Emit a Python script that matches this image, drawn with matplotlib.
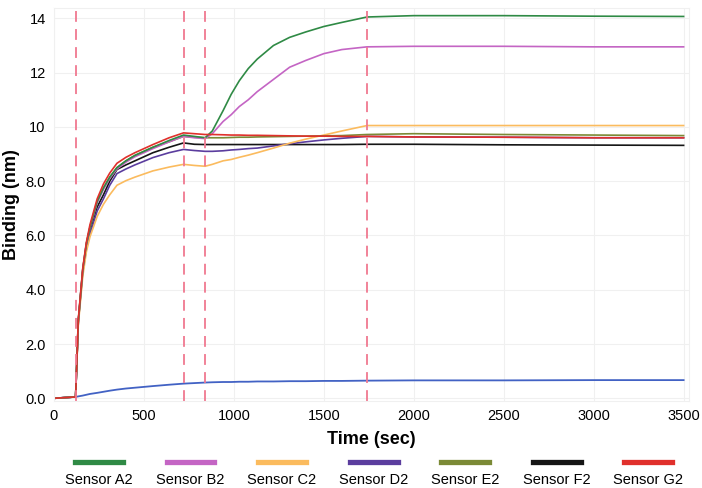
import numpy as np
from matplotlib import pyplot as plt
from matplotlib.lines import Line2D

plt.rcParams['font.family'] = ['Liberation Sans', 'DejaVu Sans']

# sample times (sec) and readings (nm) per sensor
time = [0, 120, 135, 160, 180, 200, 240, 275, 310, 350, 400, 450, 550, 640, 720, 780, 840,
        880, 940, 985, 1030, 1080, 1130, 1220, 1310, 1400, 1500, 1600, 1740, 2000, 2500, 3000, 3500]

sensor_a2 = [0, 0.05, 2.85, 4.75, 5.7, 6.3, 7.25, 7.75, 8.15, 8.5, 8.75, 8.95, 9.25, 9.5, 9.7, 9.65, 9.6,
             9.85, 10.6, 11.2, 11.7, 12.15, 12.5, 13.0, 13.3, 13.5, 13.7, 13.85, 14.05, 14.1, 14.1, 14.08, 14.07]
sensor_b2 = [0, 0.05, 2.85, 4.75, 5.7, 6.3, 7.2, 7.7, 8.1, 8.45, 8.7, 8.9, 9.2, 9.45, 9.65, 9.6, 9.57,
             9.75, 10.2, 10.45, 10.75, 11.0, 11.3, 11.75, 12.2, 12.45, 12.7, 12.85, 12.95, 12.97, 12.97, 12.95, 12.95]
sensor_c2 = [0, 0.05, 2.7, 4.5, 5.4, 5.95, 6.7, 7.15, 7.5, 7.85, 8.02, 8.15, 8.38, 8.52, 8.62, 8.58, 8.55,
             8.62, 8.75, 8.8, 8.88, 8.96, 9.05, 9.22, 9.4, 9.55, 9.7, 9.85, 10.05, 10.05, 10.05, 10.05, 10.05]
sensor_d2 = [0, 0.05, 2.8, 4.65, 5.5, 6.05, 6.9, 7.35, 7.85, 8.28, 8.45, 8.6, 8.87, 9.05, 9.17, 9.13, 9.1,
             9.1, 9.12, 9.15, 9.17, 9.2, 9.22, 9.3, 9.38, 9.45, 9.52, 9.58, 9.65, 9.63, 9.62, 9.6, 9.6]
sensor_e2 = [0, 0.05, 2.85, 4.75, 5.7, 6.3, 7.25, 7.75, 8.15, 8.5, 8.75, 8.95, 9.25, 9.45, 9.65, 9.62, 9.6,
             9.6, 9.6, 9.61, 9.62, 9.62, 9.63, 9.64, 9.65, 9.66, 9.67, 9.68, 9.72, 9.75, 9.72, 9.7, 9.68]
sensor_f2 = [0, 0.05, 2.8, 4.7, 5.6, 6.2, 7.05, 7.5, 8.0, 8.43, 8.6, 8.75, 9.05, 9.25, 9.41, 9.36, 9.35,
             9.35, 9.35, 9.35, 9.35, 9.35, 9.35, 9.35, 9.35, 9.35, 9.35, 9.35, 9.36, 9.36, 9.34, 9.33, 9.32]
sensor_g2 = [0, 0.05, 2.9, 4.8, 5.75, 6.4, 7.35, 7.9, 8.3, 8.66, 8.88, 9.05, 9.35, 9.6, 9.78, 9.75, 9.72,
             9.72, 9.71, 9.7, 9.7, 9.69, 9.69, 9.68, 9.67, 9.66, 9.66, 9.65, 9.65, 9.63, 9.62, 9.6, 9.6]
reference = [0, 0.05, 0.07, 0.1, 0.13, 0.16, 0.2, 0.24, 0.28, 0.32, 0.36, 0.39, 0.45, 0.5, 0.54, 0.56, 0.58,
             0.59, 0.6, 0.6, 0.61, 0.61, 0.62, 0.62, 0.63, 0.63, 0.64, 0.64, 0.65, 0.66, 0.66, 0.67, 0.67]

step_times = [120, 720, 840, 1740]

names = ['Sensor A2', 'Sensor B2', 'Sensor C2', 'Sensor D2', 'Sensor E2', 'Sensor F2', 'Sensor G2']
series = [sensor_a2, sensor_b2, sensor_c2, sensor_d2, sensor_e2, sensor_f2, sensor_g2]
colors = ['#2f8a45', '#c465c4', '#fbbb5e', '#5b3d9e', '#7b8a36', '#151515', '#e0302c']
draw_order = [5, 3, 2, 4, 1, 0, 6]

x_ticks = [0, 500, 1000, 1500, 2000, 2500, 3000, 3500]
y_ticks = [0, 2, 4, 6, 8, 10, 12, 14]
y_tick_labels = ['0.0', '2.0', '4.0', '6.0', '8.0', '10', '12', '14']

fig = plt.figure(figsize=(7.02, 4.88), dpi=100)
ax = fig.add_axes([54 / 702, 1 - 401 / 488, 635 / 702, 393.5 / 488])

ax.plot(time, reference, color='#4262c4', lw=1.3)
for i in draw_order:
    ax.plot(time, series[i], color=colors[i], lw=1.2)

for t in step_times:
    ax.axvline(t, color='#f07890', lw=1.3, ls=(0, (6, 4)))

ax.set_xlim(0, 3530)
ax.set_ylim(-0.1, 14.4)
ax.set_xticks(x_ticks)
ax.set_yticks(y_ticks)
ax.set_yticklabels(y_tick_labels)
ax.tick_params(length=0, labelsize=10.5, pad=6)
ax.grid(color='#f0f0f0', lw=0.8)
ax.set_axisbelow(True)
for s in ax.spines.values():
    s.set_color('#f0f0f0')

ax.set_xlabel('Time (sec)', fontsize=13, fontweight='bold')
ax.xaxis.set_label_coords(0.5, -0.077)
ax.set_ylabel('Binding (nm)', fontsize=13, fontweight='bold')
ax.yaxis.set_label_coords(-0.054, 0.5)

# legend: colored bar above each label
for i, (name, c) in enumerate(zip(names, colors)):
    cx = (99 + i * 91.5) / 702
    fig.add_artist(Line2D([cx - 24 / 702, cx + 24 / 702], [1 - 462 / 488] * 2,
                          color=c, lw=3.8, transform=fig.transFigure))
    fig.text(cx, 1 - 480 / 488, name, ha='center', va='center', fontsize=10.5)

fig.savefig('out.png', dpi=100)
